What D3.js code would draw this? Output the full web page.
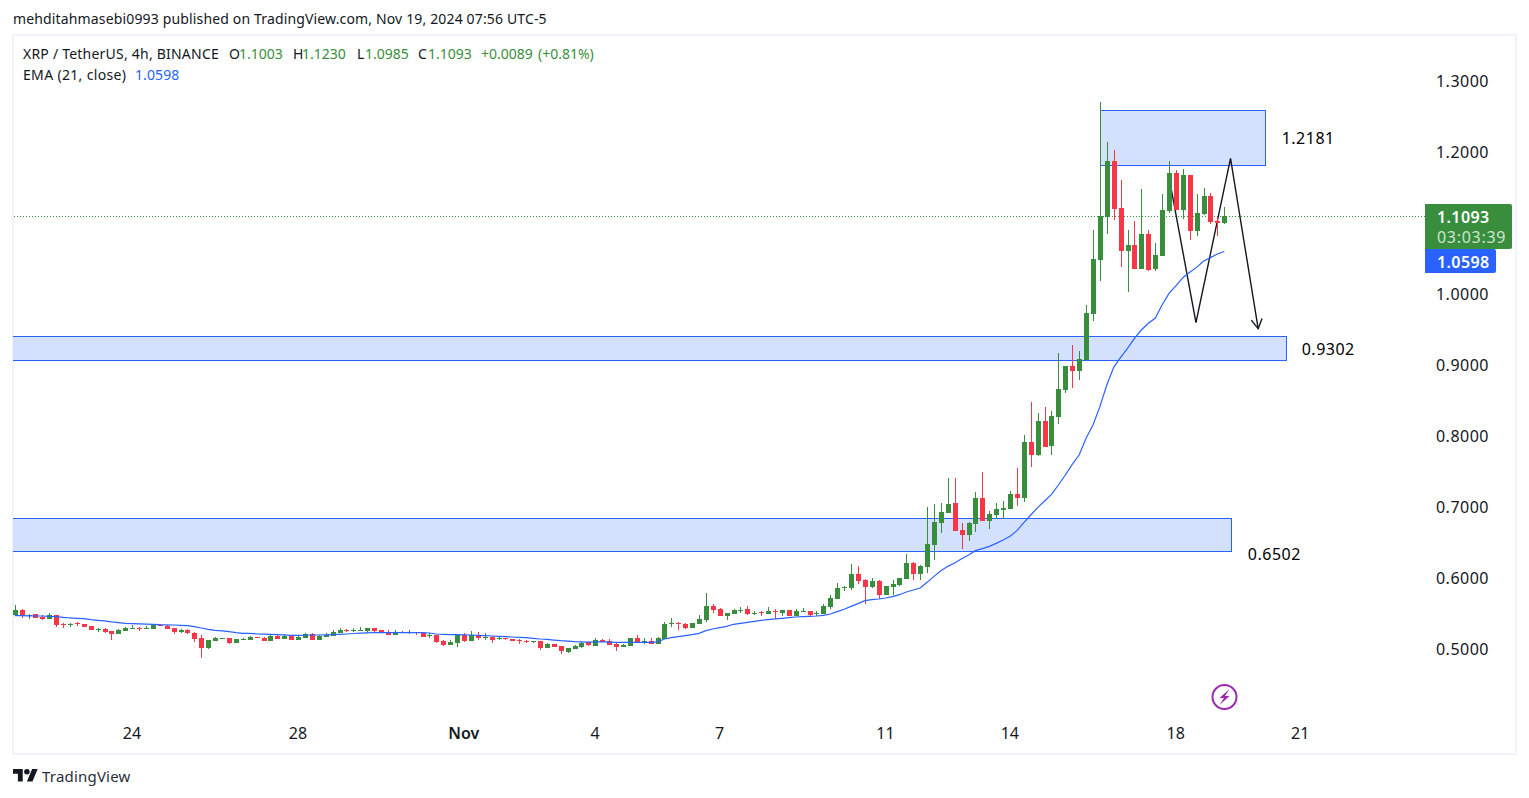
<!DOCTYPE html>
<html>
<head>
<meta charset="utf-8">
<title>XRP / TetherUS</title>
<script src="https://cdn.jsdelivr.net/npm/d3@7"></script>
<style>
  html, body { margin: 0; padding: 0; background: #fff; }
  text { font-family: "Noto Sans", "Open Sans", sans-serif; fill: #131722; }
</style>
</head>
<body>
<svg id="chart" width="1529" height="798"></svg>
<script>
// candles (4h bars, index 0 = first bar on the left)
const opens = [
  .5475,.5550,.5475,.5493,.5451,.5427,.5479,.5357,.5343,.5362,.5352,.5324,.5268,.5277,.5254,.5212,.5259,.5287,.5296,.5287,
  .5287,.5343,.5329,.5296,.5244,.5268,.5226,.5155,.5015,.5118,.5141,.5155,.5090,.5132,.5132,.5169,.5155,.5118,.5184,.5141,
  .5184,.5127,.5155,.5211,.5126,.5173,.5183,.5225,.5267,.5258,.5258,.5249,.5295,.5267,.5239,.5197,.5239,.5230,.5239,.5225,
  .5187,.5197,.5112,.5056,.5084,.5197,.5112,.5192,.5155,.5169,.5145,.5155,.5141,.5126,.5112,.5103,.5112,.5014,.5070,.5042,
  .4957,.5000,.5028,.5098,.5047,.5127,.5108,.5071,.5033,.5047,.5155,.5099,.5113,.5075,.5141,.5348,.5366,.5352,.5296,.5352,
  .5409,.5606,.5564,.5465,.5493,.5540,.5564,.5503,.5521,.5493,.5535,.5507,.5549,.5465,.5526,.5535,.5493,.5493,.5592,.5704,
  .5864,.5859,.6056,.5972,.5873,.5957,.5760,.5873,.5901,.5986,.6211,.6056,.6155,.6465,.6775,.6915,.7056,.6676,.6606,.6761,
  .7127,.6803,.6887,.6958,.6972,.7183,.7127,.7915,.7732,.8211,.7859,.8268,.8648,.8986,.8915,.9070,.9718,1.0479,1.1084,1.1873,
  1.1211,1.0605,1.0690,1.0352,1.0845,1.0352,1.0535,1.1169,1.1704,1.1183,1.1676,1.0887,1.1127,1.1380,1.1028,1.1003
];
const highs = [
  .5620,.5563,.5498,.5493,.5475,.5507,.5479,.5367,.5371,.5381,.5352,.5324,.5301,.5296,.5254,.5277,.5306,.5343,.5310,.5324,
  .5343,.5357,.5343,.5296,.5282,.5282,.5240,.5197,.5127,.5169,.5151,.5155,.5137,.5160,.5184,.5169,.5169,.5197,.5193,.5197,
  .5193,.5193,.5225,.5225,.5197,.5225,.5272,.5295,.5281,.5295,.5310,.5295,.5295,.5267,.5267,.5267,.5253,.5267,.5239,.5225,
  .5220,.5197,.5126,.5126,.5192,.5225,.5253,.5239,.5225,.5183,.5169,.5155,.5141,.5141,.5126,.5112,.5112,.5084,.5070,.5042,
  .5014,.5056,.5098,.5098,.5150,.5141,.5141,.5080,.5071,.5150,.5197,.5150,.5150,.5169,.5380,.5437,.5380,.5366,.5366,.5479,
  .5789,.5634,.5578,.5507,.5564,.5592,.5606,.5535,.5535,.5592,.5564,.5549,.5549,.5564,.5578,.5535,.5535,.5634,.5761,.5930,
  .5887,.6197,.6169,.5986,.6000,.5972,.5887,.5972,.6000,.6338,.6225,.6183,.7000,.7042,.7056,.7408,.7408,.6775,.6789,.7211,
  .7493,.6944,.7056,.7085,.7225,.7549,.8014,.8479,.8324,.8408,.8352,.9169,.8986,.9282,.9197,.9845,1.0901,1.2704,1.2141,1.2028,
  1.1605,1.0901,1.1028,1.1479,1.0901,1.0718,1.1408,1.1873,1.1746,1.1760,1.1676,1.1408,1.1493,1.1422,1.1084,1.1230
];
const lows = [
  .5465,.5442,.5423,.5442,.5409,.5423,.5315,.5301,.5315,.5324,.5315,.5273,.5244,.5230,.5127,.5212,.5249,.5282,.5259,.5282,
  .5282,.5329,.5282,.5212,.5226,.5212,.5104,.4879,.5001,.5113,.5141,.5071,.5090,.5127,.5127,.5160,.5113,.5113,.5141,.5141,
  .5127,.5127,.5155,.5126,.5126,.5173,.5183,.5220,.5239,.5239,.5253,.5220,.5239,.5225,.5197,.5197,.5220,.5211,.5197,.5169,
  .5159,.5084,.5042,.5056,.5028,.5098,.5112,.5126,.5126,.5084,.5126,.5126,.5112,.5070,.5084,.5084,.4986,.5014,.5028,.4929,
  .4943,.5000,.5014,.5047,.5047,.5099,.5061,.4977,.5033,.5047,.5089,.5071,.5071,.5075,.5141,.5310,.5268,.5282,.5296,.5352,
  .5380,.5507,.5465,.5409,.5493,.5507,.5479,.5479,.5465,.5493,.5423,.5465,.5465,.5465,.5521,.5451,.5465,.5493,.5564,.5704,
  .5817,.5831,.5915,.5634,.5859,.5704,.5760,.5760,.5887,.5986,.5972,.5972,.6070,.6254,.6634,.6915,.6662,.6409,.6521,.6648,
  .6803,.6690,.6831,.6831,.6972,.7014,.7070,.7563,.7718,.7845,.7732,.8169,.8606,.8676,.8789,.9070,.9620,1.0183,1.0845,1.1042,
  1.0380,1.0033,1.0352,1.0352,1.0324,1.0324,1.0535,1.1141,1.1183,1.1056,1.0760,1.0817,1.1113,1.0986,1.0817,1.0985
];
const closes = [
  .5550,.5465,.5484,.5442,.5427,.5479,.5343,.5348,.5352,.5352,.5315,.5273,.5277,.5244,.5212,.5263,.5296,.5296,.5287,.5296,
  .5334,.5334,.5287,.5240,.5263,.5230,.5141,.5020,.5123,.5151,.5151,.5090,.5137,.5141,.5169,.5160,.5118,.5184,.5141,.5184,
  .5132,.5169,.5211,.5126,.5183,.5192,.5239,.5267,.5258,.5267,.5267,.5295,.5253,.5225,.5197,.5239,.5230,.5239,.5230,.5169,
  .5197,.5098,.5056,.5098,.5192,.5112,.5197,.5155,.5164,.5126,.5155,.5145,.5112,.5117,.5103,.5112,.5014,.5070,.5028,.4972,
  .5014,.5042,.5084,.5056,.5127,.5099,.5061,.5033,.5056,.5150,.5089,.5108,.5071,.5155,.5352,.5366,.5348,.5296,.5366,.5423,
  .5606,.5549,.5465,.5507,.5549,.5549,.5493,.5512,.5512,.5535,.5526,.5549,.5465,.5535,.5535,.5479,.5507,.5606,.5718,.5859,
  .5873,.6056,.5957,.5873,.5957,.5760,.5887,.5915,.6000,.6211,.6056,.6169,.6479,.6789,.6930,.7042,.6662,.6606,.6775,.7127,
  .6803,.6901,.6972,.6986,.7183,.7127,.7915,.7732,.8211,.7845,.8282,.8662,.8986,.8915,.9085,.9732,1.0493,1.1098,1.1873,1.1197,
  1.0605,1.0690,1.0352,1.0845,1.0338,1.0549,1.1183,1.1704,1.1183,1.1676,1.0887,1.1141,1.1380,1.1014,1.1003,1.1093
];
const ema = [
  .5470,.5470,.5467,.5465,.5465,.5460,.5456,.5446,.5437,.5432,.5427,.5414,.5404,.5395,.5381,.5371,.5362,.5357,.5353,.5350,
  .5348,.5343,.5341,.5338,.5334,.5329,.5315,.5296,.5277,.5263,.5254,.5245,.5231,.5221,.5219,.5212,.5210,.5207,.5203,.5198,
  .5193,.5192,.5194,.5197,.5197,.5199,.5202,.5206,.5211,.5218,.5223,.5227,.5230,.5232,.5232,.5232,.5232,.5232,.5232,.5230,
  .5225,.5211,.5206,.5202,.5202,.5199,.5197,.5192,.5187,.5183,.5178,.5173,.5169,.5164,.5159,.5150,.5141,.5136,.5126,.5117,
  .5112,.5103,.5101,.5098,.5099,.5099,.5096,.5094,.5094,.5094,.5094,.5094,.5094,.5099,.5141,.5160,.5174,.5188,.5202,.5221,
  .5258,.5282,.5301,.5319,.5348,.5362,.5376,.5390,.5404,.5413,.5423,.5432,.5441,.5451,.5456,.5460,.5465,.5474,.5493,.5526,
  .5559,.5601,.5639,.5681,.5695,.5704,.5718,.5737,.5765,.5803,.5831,.5859,.5939,.6023,.6103,.6164,.6211,.6272,.6324,.6385,
  .6413,.6446,.6488,.6535,.6587,.6667,.6779,.6887,.6991,.7084,.7178,.7310,.7451,.7601,.7732,.7967,.8155,.8413,.8718,.8967,
  .9108,.9235,.9376,.9493,.9587,.9657,.9845,1.0009,1.0113,1.0230,1.0305,1.0375,1.0465,1.0512,1.0563,1.0598
];

// axis labels
const priceTicks = [0.5, 0.6, 0.7, 0.8, 0.9, 1.0, 1.2, 1.3];
const dateTickBars = [17, 41, 65, 84, 102, 126, 144, 168, 186];
const dateTickLabels = ["24", "28", "Nov", "4", "7", "11", "14", "18", "21"];

// drawn zones and the zigzag, in chart terms (bar index, price)
const zoneTops = [1.2587, 0.9404, 0.6841];
const zoneBottoms = [1.1813, 0.9066, 0.6376];
const zoneStarts = [157, -3, -3];
const zoneEnds = [180.9, 183.95, 175.95];
const zoneLabels = ["1.2181", "0.9302", "0.6502"];
const zoneLabelBars = [183.3, 186.2, 178.4];
const zoneLabelPrices = [1.2195, 0.9226, 0.6338];
const zigzagBars = [167, 170.9, 175.9, 179.9];
const zigzagPrices = [1.1648, 0.9596, 1.1911, 0.9511];

const lastClose = 1.1093;
const lastEma = 1.0598;
const countdown = "03:03:39";

const GREEN = "#388e3c", RED = "#f73647", BLUE = "#2962ff", INK = "#131722";

const svg = d3.select("#chart");

const x = d3.scaleLinear().domain([0, 175]).range([14.7, 1224.3]);
const y = d3.scaleLinear().domain([0.5, 1.3]).range([649, 81]);

// frame
svg.append("rect")
  .attr("x", 13).attr("y", 35).attr("width", 1503).attr("height", 719)
  .attr("fill", "#fff").attr("stroke", "#f0f3fa").attr("stroke-width", 2);

svg.append("clipPath").attr("id", "plot")
  .append("rect").attr("x", 13).attr("y", 36).attr("width", 1502).attr("height", 717);

const plot = svg.append("g").attr("clip-path", "url(#plot)");

// zones
plot.append("g").selectAll("rect")
  .data(zoneTops)
  .join("rect")
  .attr("x", (d, i) => Math.round(x(zoneStarts[i])) + 0.5)
  .attr("y", d => Math.round(y(d)) + 0.5)
  .attr("width", (d, i) => Math.round(x(zoneEnds[i])) - Math.round(x(zoneStarts[i])))
  .attr("height", (d, i) => Math.round(y(zoneBottoms[i])) - Math.round(y(d)))
  .attr("fill", "#d3e0fe")
  .attr("stroke", BLUE)
  .attr("stroke-width", 1);

// last price line
plot.append("line")
  .attr("x1", 14).attr("x2", 1425)
  .attr("y1", Math.round(y(lastClose)) + 0.5).attr("y2", Math.round(y(lastClose)) + 0.5)
  .attr("stroke", GREEN)
  .attr("stroke-dasharray", "1 2");

// zigzag with arrow head
const zigzagPts = zigzagBars.map((b, i) => [x(b), y(zigzagPrices[i])]);
plot.append("path")
  .attr("d", d3.line()(zigzagPts))
  .attr("fill", "none").attr("stroke", INK).attr("stroke-width", 1.4);

const [tipX, tipY] = zigzagPts[3];
const [fromX, fromY] = zigzagPts[2];
const ang = Math.atan2(tipY - fromY, tipX - fromX);
const head = [ang - 2.62, ang + 2.62].map(a => [tipX + 11 * Math.cos(a), tipY + 11 * Math.sin(a)]);
plot.append("path")
  .attr("d", d3.line()([head[0], zigzagPts[3], head[1]]))
  .attr("fill", "none").attr("stroke", INK).attr("stroke-width", 1.4);

// candles
const candle = plot.append("g").attr("shape-rendering", "crispEdges")
  .selectAll("g")
  .data(d3.range(opens.length))
  .join("g")
  .attr("fill", i => closes[i] >= opens[i] ? GREEN : RED);

candle.append("rect")
  .attr("x", i => Math.round(x(i)))
  .attr("width", 1)
  .attr("y", i => Math.round(y(highs[i])))
  .attr("height", i => Math.max(1, Math.round(y(lows[i])) - Math.round(y(highs[i]))));

candle.append("rect")
  .attr("x", i => Math.round(x(i)) - 2)
  .attr("width", 5)
  .attr("y", i => Math.round(y(Math.max(opens[i], closes[i]))))
  .attr("height", i => Math.max(1, Math.round(y(Math.min(opens[i], closes[i]))) - Math.round(y(Math.max(opens[i], closes[i])))));

// EMA
plot.append("path")
  .attr("d", d3.line().x((d, i) => x(i)).y(d => y(d))(ema))
  .attr("fill", "none").attr("stroke", BLUE).attr("stroke-width", 1.2);

// zone price labels
svg.append("g").selectAll("text")
  .data(zoneLabels)
  .join("text")
  .attr("x", (d, i) => x(zoneLabelBars[i]))
  .attr("y", (d, i) => y(zoneLabelPrices[i]))
  .attr("dy", "0.35em")
  .attr("font-size", 16)
  .attr("letter-spacing", 0.5)
  .style("fill", "#000")
  .text(d => d);

// price axis, right aligned
const yAxis = svg.append("g")
  .attr("transform", "translate(1489,0)")
  .call(d3.axisLeft(y).tickValues(priceTicks).tickFormat(d3.format(".4f")).tickSize(0).tickPadding(0));
yAxis.select(".domain").remove();
yAxis.selectAll("text").attr("font-size", 16).attr("font-family", null).attr("letter-spacing", 0.5).style("fill", INK);

// date axis
const xAxis = svg.append("g")
  .attr("transform", "translate(-0.7,733)")
  .call(d3.axisBottom(x).tickValues(dateTickBars).tickFormat((d, i) => dateTickLabels[i]).tickSize(0).tickPadding(0));
xAxis.select(".domain").remove();
xAxis.selectAll("text").attr("font-size", 16).attr("font-family", null).attr("dy", "0.35em").attr("y", 0).style("fill", INK);
xAxis.selectAll(".tick").filter((d, i) => dateTickLabels[i] === "Nov").select("text").attr("font-weight", 600);

// price tags
svg.append("path")
  .attr("d", "M1425,204H1510a2,2 0 0 1 2,2V247a2,2 0 0 1 -2,2H1425Z")
  .attr("fill", GREEN);
svg.append("path")
  .attr("d", "M1425,249H1494a2,2 0 0 1 2,2V271a2,2 0 0 1 -2,2H1425Z")
  .attr("fill", BLUE);
const tagText = [
  { t: d3.format(".4f")(lastClose), yy: 217, op: 1, w: 600, ls: 0.4 },
  { t: countdown, yy: 237, op: 0.75, w: 400, ls: 0.7 },
  { t: d3.format(".4f")(lastEma), yy: 262, op: 1, w: 600, ls: 0.4 }
];
svg.append("g").selectAll("text")
  .data(tagText)
  .join("text")
  .attr("x", 1437).attr("y", d => d.yy).attr("dy", "0.35em")
  .attr("font-size", 16).attr("font-weight", d => d.w).attr("letter-spacing", d => d.ls)
  .style("fill", "#fff").attr("opacity", d => d.op)
  .text(d => d.t);

// header and legend
svg.append("text").attr("x", 13).attr("y", 24).attr("font-size", 14).attr("letter-spacing", 0.15)
  .text("mehditahmasebi0993 published on TradingView.com, Nov 19, 2024 07:56 UTC-5");

const legendRow = [
  ["XRP / TetherUS, 4h, BINANCE", 23, INK, 0.22],
  ["O", 229, INK, 0], ["1.1003", 239, GREEN, 0],
  ["H", 293, INK, 0], ["1.1230", 302, GREEN, 0],
  ["L", 357, INK, 0], ["1.0985", 365, GREEN, 0],
  ["C", 418, INK, 0], ["1.1093", 428, GREEN, 0],
  ["+0.0089", 481, GREEN, 0], ["(+0.81%)", 538, GREEN, 0]
];
svg.append("g").selectAll("text")
  .data(legendRow)
  .join("text")
  .attr("x", d => d[1]).attr("y", 59).attr("font-size", 14)
  .attr("letter-spacing", d => d[3])
  .style("fill", d => d[2])
  .text(d => d[0]);

svg.append("text").attr("x", 23).attr("y", 80).attr("font-size", 14).attr("letter-spacing", 0.33).text("EMA (21, close)");
svg.append("text").attr("x", 135).attr("y", 80).attr("font-size", 14).attr("letter-spacing", 0.1).style("fill", BLUE)
  .text(d3.format(".4f")(lastEma));

// lightning badge
const badge = svg.append("g").attr("transform", "translate(1224.5,697)");
badge.append("circle").attr("r", 12).attr("fill", "#fff").attr("stroke", "#9c27b0").attr("stroke-width", 2);
badge.append("path").attr("d", "M5,-8L-5,1H-0.5L-5,8L5,-1H0.5Z").attr("fill", "#9c27b0");

// logo
const logo = svg.append("g").attr("transform", "translate(13,766.2) scale(0.695)").attr("fill", INK);
logo.append("path").attr("d", "M14 22H7V11H0V4h14v18zM28 22h-8l7.5-18h8L28 22z");
logo.append("circle").attr("cx", 20).attr("cy", 8).attr("r", 4);
svg.append("text").attr("x", 42).attr("y", 782).attr("font-size", 15).attr("letter-spacing", 0.2).style("fill", "#2a2e39").text("TradingView");
</script>
</body>
</html>
